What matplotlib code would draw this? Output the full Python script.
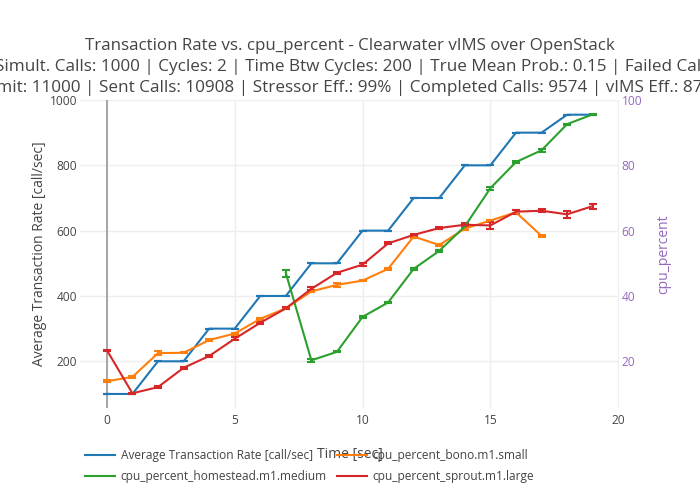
import numpy as np
import matplotlib
matplotlib.use("Agg")
from matplotlib import pyplot as plt

plt.rcParams["font.family"] = ["Open Sans", "DejaVu Sans"]

# time axis [sec]
time_rate = list(range(20))
avg_rate = [100, 100, 200, 200, 300, 300, 400, 400, 500, 500,
            600, 600, 700, 700, 800, 800, 900, 900, 955, 955]
avg_rate_err = [0] * 20

time_bono = list(range(18))
cpu_bono = [13.9, 15.2, 22.5, 22.6, 26.5, 28.5, 33.0, 36.2, 41.4, 43.4,
            44.7, 48.3, 58.2, 55.6, 60.6, 63.1, 65.6, 58.4]
cpu_bono_err = [0.3, 0.2, 0.5, 0.2, 0.3, 0.3, 0.4, 0.2, 0.3, 0.6,
                0.2, 0.4, 0.3, 0.3, 0.4, 0.3, 0.6, 0.4]

time_homestead = list(range(7, 20))
cpu_homestead = [47.0, 20.3, 22.9, 33.6, 38.0, 48.3, 53.8, 61.3, 73.0,
                 81.0, 84.6, 92.6, 95.6]
cpu_homestead_err = [1.1, 0.5, 0.2, 0.3, 0.3, 0.4, 0.3, 0.3, 0.5,
                     0.3, 0.4, 0.2, 0.2]

time_sprout = list(range(20))
cpu_sprout = [23.4, 10.2, 12.1, 18.0, 21.6, 26.9, 31.8, 36.2, 42.2, 47.1,
              49.6, 56.1, 58.7, 60.8, 61.8, 61.6, 65.8, 66.1, 65.0, 67.5]
cpu_sprout_err = [0.2, 0.2, 0.2, 0.3, 0.3, 0.4, 0.3, 0.3, 0.4, 0.3,
                  0.4, 0.3, 0.4, 0.3, 0.4, 1.1, 0.6, 0.4, 1.1, 0.8]

title_lines = [
    "Transaction Rate vs. cpu_percent - Clearwater vIMS over OpenStack",
    "Max. Simult. Calls: 1000 | Cycles: 2 | Time Btw Cycles: 200 | True Mean Prob.: 0.15 | Failed Calls",
    "Limit: 11000 | Sent Calls: 10908 | Stressor Eff.: 99% | Completed Calls: 9574 | vIMS Eff.: 87%",
]
# horizontal nudge (px) so the visible part of each clipped line sits as in the original
title_shift = [0, -17, 0]
title_size = [12.2, 12.3, 12.3]

BLUE, ORANGE, GREEN, RED, PURPLE = "#1f77b4", "#ff7f0e", "#2ca02c", "#d62728", "#9467bd"
TXT = "#444444"

fig = plt.figure(figsize=(7, 5), dpi=100)
ax = fig.add_axes([80 / 700, 1 - 408 / 500, 539 / 700, 308 / 500])
ax2 = ax.twinx()

eb = dict(linewidth=1.5, elinewidth=1.5, capsize=3, capthick=1.5)
h1 = ax.errorbar(time_rate, avg_rate, yerr=avg_rate_err, color=BLUE, **eb)
h2 = ax2.errorbar(time_bono, cpu_bono, yerr=cpu_bono_err, color=ORANGE, **eb)
h3 = ax2.errorbar(time_homestead, cpu_homestead, yerr=cpu_homestead_err, color=GREEN, **eb)
h4 = ax2.errorbar(time_sprout, cpu_sprout, yerr=cpu_sprout_err, color=RED, **eb)

ax.set_xlim(-1.05, 20.03)
ax.set_ylim(57, 998)
ax2.set_ylim(5.7, 99.8)
ax.set_xticks([0, 5, 10, 15, 20])
ax.set_yticks([200, 400, 600, 800, 1000])
ax2.set_yticks([20, 40, 60, 80, 100])

ax.grid(True, color="#eeeeee", linewidth=1)
ax.set_axisbelow(True)
ax.axvline(0, color="#999999", linewidth=1.2, zorder=1)
for a in (ax, ax2):
    for s in a.spines.values():
        s.set_visible(False)
    a.tick_params(length=0, labelsize=8.6)
ax.tick_params(axis="y", colors=TXT, pad=2)
ax.tick_params(axis="x", colors=TXT, pad=4)
ax2.tick_params(axis="y", colors=PURPLE, pad=2)

ax.set_ylabel("Average Transaction Rate [call/sec]", fontsize=10, color=TXT, labelpad=2)
ax2.set_ylabel("cpu_percent", fontsize=10, color=PURPLE, labelpad=10)
ax.set_xlabel("Time [sec]", fontsize=10, color=TXT, labelpad=14.5)

for i, line in enumerate(title_lines):
    fig.text(0.5 + title_shift[i] / 700, 1 - (46 + 21 * i) / 500, line,
             ha="center", va="center", fontsize=title_size[i], color=TXT)

leg = fig.legend(
    [h1[0], h3[0], h2[0], h4[0]],
    ["Average Transaction Rate [call/sec]", "cpu_percent_homestead.m1.medium",
     "cpu_percent_bono.m1.small", "cpu_percent_sprout.m1.large"],
    ncol=2, loc="upper left", bbox_to_anchor=(85 / 700, 1 - 449 / 500),
    frameon=False, fontsize=8.6, handlelength=2.5, handletextpad=0.5,
    columnspacing=0.83, labelspacing=0.65, labelcolor=TXT, borderpad=0,
    borderaxespad=0,
)

fig.savefig("out.png", dpi=100)
